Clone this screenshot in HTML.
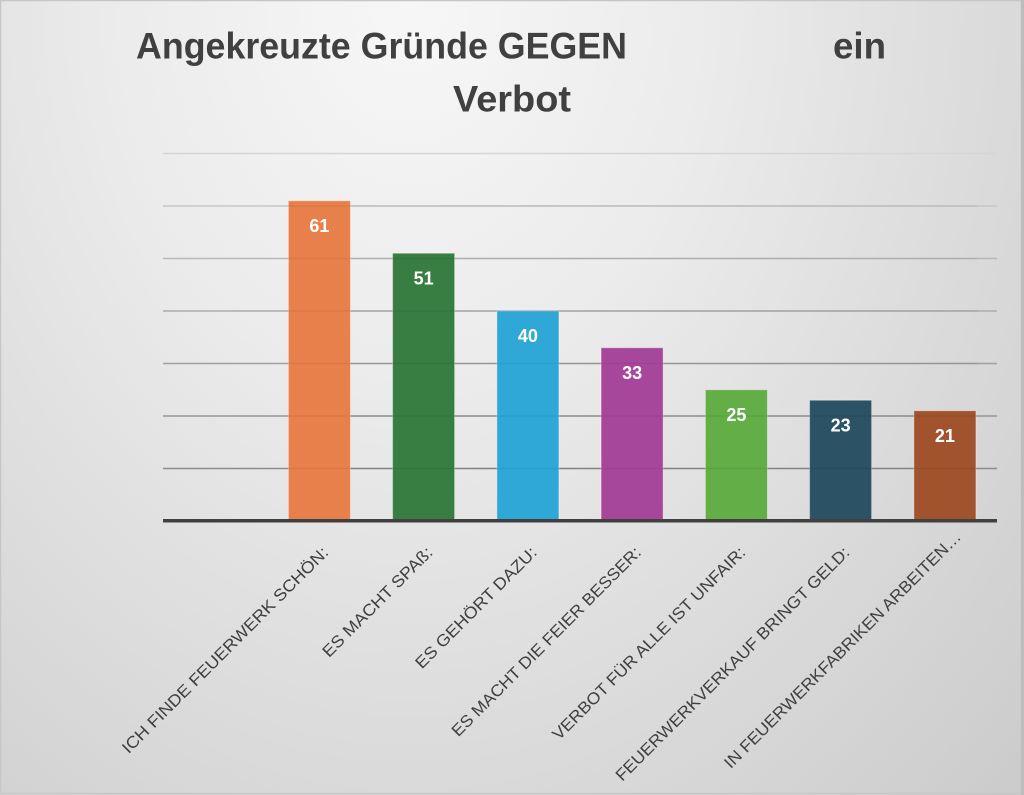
<!DOCTYPE html>
<html>
<head>
<meta charset="utf-8">
<style>
  html,body{margin:0;padding:0;}
  body{width:1024px;height:795px;overflow:hidden;}
  .bg{position:absolute;left:0;top:0;width:1024px;height:795px;
      background:radial-gradient(ellipse farthest-corner at 40% 0%, #f7f7f7 0%, #ebebeb 35%, #dcdcdc 65%, #cbcbcb 100%);}
  svg{position:absolute;left:0;top:0;}
</style>
</head>
<body>
<div class="bg"></div>
<svg width="1024" height="795" viewBox="0 0 1024 795" xmlns="http://www.w3.org/2000/svg">
  <!-- border -->
  <rect x="0.5" y="0.5" width="1021" height="793" fill="none" stroke="#c6c6c6" stroke-width="1.5"/>
  <rect x="1021" y="0" width="3" height="795" fill="#bdbdbd"/>

  <!-- title -->
  <g font-family="'Liberation Sans', sans-serif" font-weight="bold" fill="#404040" font-size="37">
    <text x="136" y="58.5" textLength="491" lengthAdjust="spacingAndGlyphs">Angekreuzte Gründe GEGEN</text>
    <text x="833" y="58.5" textLength="53" lengthAdjust="spacingAndGlyphs">ein</text>
    <text x="453" y="111.5" textLength="118" lengthAdjust="spacingAndGlyphs">Verbot</text>
  </g>

  <!-- gridlines -->
  <g stroke-width="1.6">
    <line x1="163" x2="997" y1="153.5" y2="153.5" stroke="#d6d6d6"/>
    <line x1="163" x2="997" y1="206" y2="206" stroke="#c6c6c6"/>
    <line x1="163" x2="997" y1="258.5" y2="258.5" stroke="#b8b8b8"/>
    <line x1="163" x2="997" y1="311" y2="311" stroke="#acacac"/>
    <line x1="163" x2="997" y1="363.5" y2="363.5" stroke="#a0a0a0"/>
    <line x1="163" x2="997" y1="416" y2="416" stroke="#959595"/>
    <line x1="163" x2="997" y1="468.5" y2="468.5" stroke="#8c8c8c"/>
  </g>

  <!-- bars -->
  <g stroke="rgba(255,255,255,0.35)" stroke-width="1">
    <rect x="288.4" y="200.75" width="62" height="320.25" fill="#e8804b"/>
    <rect x="392.6" y="253.25" width="62" height="267.75" fill="#387d42"/>
    <rect x="496.9" y="311" width="62" height="210" fill="#2fa8d8"/>
    <rect x="601.1" y="347.75" width="62" height="173.25" fill="#a7479c"/>
    <rect x="705.4" y="389.75" width="62" height="131.25" fill="#63ae47"/>
    <rect x="809.6" y="400.25" width="62" height="120.75" fill="#2c5265"/>
    <rect x="913.9" y="410.75" width="62" height="110.25" fill="#a0532c"/>
  </g>

  <!-- faint gridlines through bars -->
  <g stroke="rgba(0,0,0,0.06)" stroke-width="1.6">
    <line x1="288" x2="977" y1="206" y2="206"/>
    <line x1="288" x2="977" y1="258.5" y2="258.5"/>
    <line x1="288" x2="977" y1="311" y2="311"/>
    <line x1="288" x2="977" y1="363.5" y2="363.5"/>
    <line x1="288" x2="977" y1="416" y2="416"/>
    <line x1="288" x2="977" y1="468.5" y2="468.5"/>
  </g>

  <!-- axis -->
  <rect x="163" y="519" width="834" height="3.5" fill="#404040"/>

  <!-- data labels -->
  <g font-family="'Liberation Sans', sans-serif" font-weight="bold" fill="#ffffff" font-size="18" text-anchor="middle">
    <text x="319.4" y="232">61</text>
    <text x="423.6" y="284.5">51</text>
    <text x="527.9" y="342">40</text>
    <text x="632.1" y="379">33</text>
    <text x="736.4" y="421">25</text>
    <text x="840.6" y="431.5">23</text>
    <text x="944.9" y="442">21</text>
  </g>

  <!-- category labels -->
  <g font-family="'Liberation Sans', sans-serif" fill="#404040" font-size="16.5" text-anchor="end">
    <text transform="translate(329.4,553.5) rotate(-45)" textLength="284" lengthAdjust="spacingAndGlyphs">ICH FINDE FEUERWERK SCHÖN:</text>
    <text transform="translate(433.6,553.5) rotate(-45)" textLength="148" lengthAdjust="spacingAndGlyphs">ES MACHT SPAß:</text>
    <text transform="translate(537.9,553.5) rotate(-45)" textLength="164" lengthAdjust="spacingAndGlyphs">ES GEHÖRT DAZU:</text>
    <text transform="translate(642.1,553.5) rotate(-45)" textLength="260" lengthAdjust="spacingAndGlyphs">ES MACHT DIE FEIER BESSER:</text>
    <text transform="translate(746.4,553.5) rotate(-45)" textLength="265" lengthAdjust="spacingAndGlyphs">VERBOT FÜR ALLE IST UNFAIR:</text>
    <text transform="translate(850.6,553.5) rotate(-45)" textLength="323" lengthAdjust="spacingAndGlyphs">FEUERWERKVERKAUF BRINGT GELD:</text>
    <text transform="translate(962,538) rotate(-45)" textLength="327" lengthAdjust="spacingAndGlyphs">IN FEUERWERKFABRIKEN ARBEITEN…</text>
  </g>
</svg>
</body>
</html>
